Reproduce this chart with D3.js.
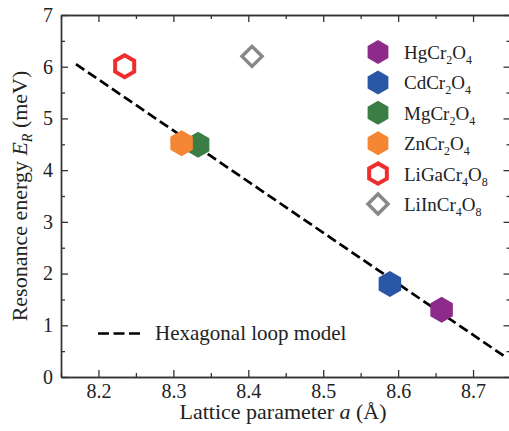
<!DOCTYPE html>
<html>
<head>
<meta charset="utf-8">
<script src="https://cdn.jsdelivr.net/npm/d3@7"></script>
<style>
  body { margin: 0; background: #fff; }
</style>
</head>
<body>
<div class="canvas"></div>
<script>
var width = 509,
   height = 431;
var serif = "'Liberation Serif', 'Times New Roman', Times, 'DejaVu Serif', serif";

// data
var compounds = ['HgCr2O4', 'CdCr2O4', 'MgCr2O4', 'ZnCr2O4', 'LiGaCr4O8', 'LiInCr4O8'];
var latticeA = [8.658, 8.589, 8.333, 8.311, 8.235, 8.405];
var energyR = [1.30, 1.80, 4.49, 4.52, 6.01, 6.20];
var colors = ['#8e2a8a', '#2a56a6', '#3a7e45', '#f58634', '#ee2e2e', '#888888'];
var markers = ['hexFill', 'hexFill', 'hexFill', 'hexFill', 'hexOpen', 'diamond'];
// legend labels as [text, isSubscript] pieces
var legendLabels = [
   [['HgCr', 0], ['2', 1], ['O', 0], ['4', 1]],
   [['CdCr', 0], ['2', 1], ['O', 0], ['4', 1]],
   [['MgCr', 0], ['2', 1], ['O', 0], ['4', 1]],
   [['ZnCr', 0], ['2', 1], ['O', 0], ['4', 1]],
   [['LiGaCr', 0], ['4', 1], ['O', 0], ['8', 1]],
   [['LiInCr', 0], ['4', 1], ['O', 0], ['8', 1]]
];
// hexagonal loop model line
var modelA = [8.17, 8.745];
var modelE = [6.05, 0.37];

var xTicks = [8.2, 8.3, 8.4, 8.5, 8.6, 8.7];
var xMinor = [8.15, 8.25, 8.35, 8.45, 8.55, 8.65];
var yTicks = [0, 1, 2, 3, 4, 5, 6, 7];
var yMinor = [0.5, 1.5, 2.5, 3.5, 4.5, 5.5, 6.5];

var x = d3.scaleLinear().domain([8.15, 8.75]).range([61, 510.5]);
var y = d3.scaleLinear().domain([0, 7]).range([377, 15]);

var svg = d3.select('.canvas')
   .append('svg')
   .attr('width', width)
   .attr('height', height)
   .attr('font-family', serif);

// pointy-top hexagon
var hexagon = {
   draw: function(context, size) {
      var r = Math.sqrt(size);
      for (var i = 0; i < 6; i++) {
         var ang = Math.PI / 2 + i * Math.PI / 3;
         var px = r * Math.cos(ang), py = -r * Math.sin(ang);
         if (i === 0) context.moveTo(px, py); else context.lineTo(px, py);
      }
      context.closePath();
   }
};
var diamond = {
   draw: function(context, size) {
      var r = Math.sqrt(size);
      context.moveTo(0, -r);
      context.lineTo(r, 0);
      context.lineTo(0, r);
      context.lineTo(-r, 0);
      context.closePath();
   }
};

function drawMarker(g, kind, color, big) {
   if (kind === 'hexFill') {
      var r = big ? 13 : 12;
      g.append('path')
         .attr('d', d3.symbol().type(hexagon).size(r * r)())
         .attr('fill', color);
   } else if (kind === 'hexOpen') {
      var r2 = big ? 11 : 10.2;
      g.append('path')
         .attr('d', d3.symbol().type(hexagon).size(r2 * r2)())
         .attr('fill', 'none')
         .attr('stroke', color)
         .attr('stroke-width', 4);
   } else {
      var r3 = 10;
      g.append('path')
         .attr('d', d3.symbol().type(diamond).size(r3 * r3)())
         .attr('fill', 'none')
         .attr('stroke', color)
         .attr('stroke-width', 3.5)
         .attr('stroke-linejoin', 'miter');
   }
}

// axes frame with inward ticks
var axisColor = '#333';
var x0 = x.range()[0], x1 = x.range()[1], y0 = y.range()[0], y1 = y.range()[1];

var axes = svg.append('g').attr('class', 'axes');

axes.append('g')
   .attr('transform', 'translate(0,' + y0 + ')')
   .call(d3.axisBottom(x).tickValues(xTicks).tickSizeInner(-7).tickSizeOuter(0).tickPadding(7).tickFormat(d3.format('.1f')));
axes.append('g')
   .attr('transform', 'translate(0,' + y0 + ')')
   .call(d3.axisBottom(x).tickValues(xMinor).tickSizeInner(-4).tickSizeOuter(0).tickFormat(''));
axes.append('g')
   .attr('transform', 'translate(0,' + y1 + ')')
   .call(d3.axisTop(x).tickValues(xTicks).tickSizeInner(-7).tickSizeOuter(0).tickFormat(''));
axes.append('g')
   .attr('transform', 'translate(0,' + y1 + ')')
   .call(d3.axisTop(x).tickValues(xMinor).tickSizeInner(-4).tickSizeOuter(0).tickFormat(''));
axes.append('g')
   .attr('transform', 'translate(' + x0 + ',0)')
   .call(d3.axisLeft(y).tickValues(yTicks).tickSizeInner(-7).tickSizeOuter(0).tickPadding(8).tickFormat(d3.format('d')));
axes.append('g')
   .attr('transform', 'translate(' + x0 + ',0)')
   .call(d3.axisLeft(y).tickValues(yMinor).tickSizeInner(-4).tickSizeOuter(0).tickFormat(''));
axes.append('g')
   .attr('transform', 'translate(' + x1 + ',0)')
   .call(d3.axisRight(y).tickValues(yTicks).tickSizeInner(-7).tickSizeOuter(0).tickFormat(''));
axes.append('g')
   .attr('transform', 'translate(' + x1 + ',0)')
   .call(d3.axisRight(y).tickValues(yMinor).tickSizeInner(-4).tickSizeOuter(0).tickFormat(''));

axes.selectAll('g').attr('font-family', serif).attr('font-size', 20);
axes.selectAll('.domain').attr('stroke', axisColor).attr('stroke-width', 1.4);
axes.selectAll('.tick line').attr('stroke', axisColor).attr('stroke-width', 1.3);
axes.selectAll('.tick text').attr('fill', '#222');

// model line
var line = d3.line().x(d => x(d[0])).y(d => y(d[1]));
svg.append('path')
   .datum(d3.zip(modelA, modelE))
   .attr('d', line)
   .attr('fill', 'none')
   .attr('stroke', '#000')
   .attr('stroke-width', 2.7)
   .attr('stroke-dasharray', '10,4.5');

// data points (open markers first, Mg under Zn)
var order = [5, 4, 0, 1, 2, 3];
order.forEach(function(i) {
   var g = svg.append('g')
      .attr('transform', 'translate(' + x(latticeA[i]) + ',' + y(energyR[i]) + ')');
   drawMarker(g, markers[i], colors[i], true);
});

// legend (compounds)
var legend = svg.append('g').attr('class', 'legend');
compounds.forEach(function(c, i) {
   var cy = 52 + i * 30.4;
   var g = legend.append('g').attr('transform', 'translate(378,' + cy + ')');
   drawMarker(g, markers[i], colors[i], false);
   var t = legend.append('text')
      .attr('x', 404)
      .attr('y', cy + 7)
      .attr('fill', '#222')
      .attr('font-size', 19);
   legendLabels[i].forEach(function(p, k) {
      t.append('tspan')
         .attr('font-size', p[1] ? 12 : 19)
         .attr('dy', k === 0 ? 0 : (p[1] ? 5 : -5))
         .text(p[0]);
   });
});

// legend (model)
svg.append('line')
   .attr('x1', 98).attr('x2', 141)
   .attr('y1', 333.5).attr('y2', 333.5)
   .attr('stroke', '#000')
   .attr('stroke-width', 2.7)
   .attr('stroke-dasharray', '11,4.5');
svg.append('text')
   .attr('x', 155)
   .attr('y', 339.5)
   .attr('fill', '#222')
   .attr('font-size', 21)
   .text('Hexagonal loop model');

// axis titles
var xt = svg.append('text')
   .attr('x', 283)
   .attr('y', 419)
   .attr('text-anchor', 'middle')
   .attr('fill', '#222')
   .attr('font-size', 22);
xt.append('tspan').text('Lattice parameter ');
xt.append('tspan').attr('font-style', 'italic').text('a');
xt.append('tspan').text(' (\u00C5)');

var yt = svg.append('text')
   .attr('transform', 'translate(27,196) rotate(-90)')
   .attr('text-anchor', 'middle')
   .attr('fill', '#222')
   .attr('font-size', 22);
yt.append('tspan').text('Resonance energy ');
yt.append('tspan').attr('font-style', 'italic').text('E');
yt.append('tspan').attr('font-style', 'italic').attr('font-size', 14).attr('dy', 5).text('R');
yt.append('tspan').attr('dy', -5).text(' (meV)');
</script>
</body>
</html>
